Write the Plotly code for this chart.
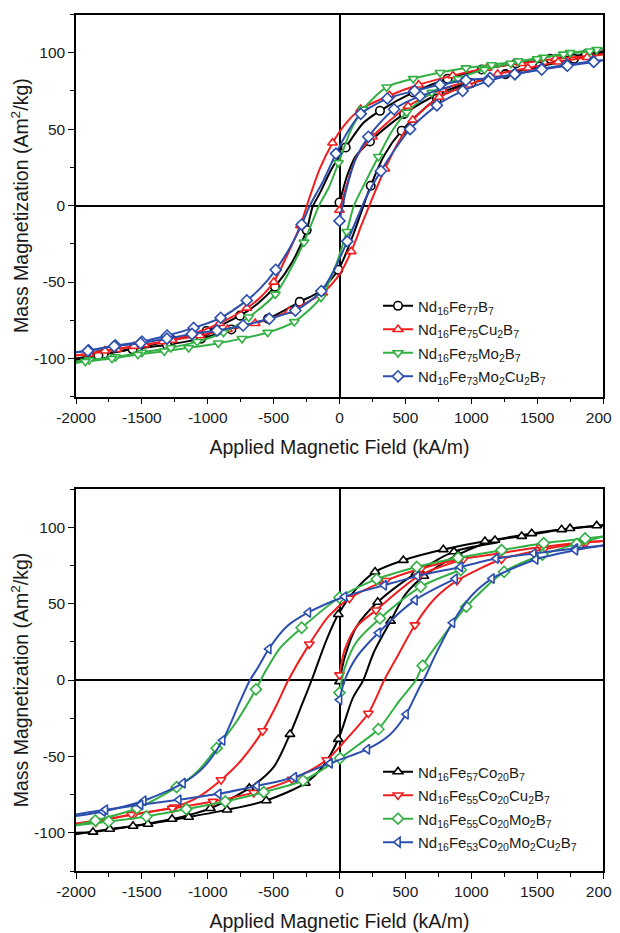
import plotly.graph_objects as go

# ---------------- data (H in kA/m, M in Am2/kg) ----------------
# Top panel
top_names = ["Nd<sub>16</sub>Fe<sub>77</sub>B<sub>7</sub>",
             "Nd<sub>16</sub>Fe<sub>75</sub>Cu<sub>2</sub>B<sub>7</sub>",
             "Nd<sub>16</sub>Fe<sub>75</sub>Mo<sub>2</sub>B<sub>7</sub>",
             "Nd<sub>16</sub>Fe<sub>73</sub>Mo<sub>2</sub>Cu<sub>2</sub>B<sub>7</sub>"]

# black
t1_init_mk = [(0, 2), (231, 42), (490, 60), (750, 73)]
t1_init_ln = [(60, 20), (120, 32), (1000, 81)]
t1_desc_mk = [(1870, 99), (1600, 96), (1340, 93), (1080, 89), (820, 83), (560, 74), (307, 62), (47, 38),
              (-249, -16), (-490, -53), (-755, -72), (-1010, -82), (-1270, -88), (-1530, -93), (-1790, -97)]
t1_desc_ln = [(2000, 101), (180, 54), (-60, 24), (-150, 8), (-205, -1), (-360, -37), (-620, -64), (-2000, -100)]
t1_asc_mk = [(-1830, -98), (-1570, -94), (-1310, -91), (-1050, -87), (-821, -81), (-543, -74), (-302, -63),
             (-9, -42), (237, 13), (472, 49), (740, 70), (1000, 80), (1260, 86), (1520, 91), (1780, 96)]
t1_asc_ln = [(-2000, -101), (-150, -56), (100, -20), (170, -3), (340, 33), (2000, 100)]

# red
t2_init_mk = [(0, -3), (250, 45), (520, 65), (780, 76)]
t2_init_ln = [(50, 12), (130, 32), (1000, 82)]
t2_desc_mk = [(1900, 98), (1640, 96), (1380, 93), (1120, 90), (860, 85), (600, 79), (380, 72), (160, 63),
              (-53, 41), (-297, -13), (-499, -50), (-703, -67), (-910, -77), (-1120, -84), (-1340, -89),
              (-1560, -92), (-1780, -95)]
t2_desc_ln = [(2000, 99), (50, 54), (-150, 24), (-240, 2), (-400, -33), (-600, -60), (-2000, -98)]
t2_asc_mk = [(-1900, -97), (-1690, -94), (-1480, -91), (-1270, -88), (-1060, -85), (-850, -81), (-640, -77),
             (-380, -69), (-128, -57), (89, -30), (345, 24), (556, 56), (757, 71), (980, 79), (1200, 86),
             (1430, 90), (1660, 94), (1880, 97)]
t2_asc_ln = [(-2000, -98), (0, -45), (170, -12), (250, 5), (450, 42), (2000, 99)]

# green
t3_init_mk = []
t3_init_ln = []
t3_desc_mk = [(1952, 102), (1750, 100), (1547, 97), (1357, 94.5), (1155, 92), (960, 90), (763, 87), (560, 83),
              (358, 77.5), (179, 63), (-8, 28), (-270, -24), (-487, -58), (-689, -73), (-880, -83),
              (-1080, -89), (-1280, -93), (-1500, -96), (-1700, -99), (-1900, -101)]
t3_desc_ln = [(2000, 103), (90, 50), (-80, 12), (-155, 0), (-380, -43), (-2000, -102)]
t3_asc_mk = [(-1929, -102), (-1727, -100), (-1530, -97.4), (-1330, -95.2), (-1145, -93), (-920, -90),
             (-740, -87), (-545, -83), (-343, -76), (-140, -60), (55, -17), (295, 32), (510, 61), (700, 74),
             (900, 83), (1100, 89), (1300, 93), (1500, 96), (1700, 99), (1900, 101)]
t3_asc_ln = [(-2000, -103), (-40, -42), (110, 0), (200, 16), (400, 49), (2000, 103)]

# blue
t4_init_mk = [(0, -10), (219, 45), (414, 63), (611, 71.6)]
t4_init_ln = [(50, 10), (120, 30), (850, 78)]
t4_desc_mk = [(1926, 94.5), (1724, 92), (1535, 89.5), (1332, 86), (1142, 83.5), (960, 82), (763, 79), (570, 75),
              (363, 70), (161, 60), (-27, 34), (-287, -12.4), (-484, -42), (-704, -62), (-902, -73.4),
              (-1107, -80), (-1309, -85), (-1499, -89), (-1701, -91.5), (-1904, -94.8)]
t4_desc_ln = [(2000, 95), (60, 48), (-130, 15), (-225, 0), (-380, -28), (-600, -54), (-2000, -96)]
t4_asc_mk = [(-1910, -95), (-1710, -92), (-1510, -90), (-1310, -87), (-1120, -84), (-930, -81.7), (-732, -78.4),
             (-533, -74), (-335, -68.6), (-138, -55.9), (59, -23.4), (314, 22.6), (536, 50), (739, 65.6),
             (935, 75), (1130, 81.4), (1330, 86), (1535, 89), (1730, 91.5), (1930, 94)]
t4_asc_ln = [(-2000, -96), (-40, -42), (150, -5), (200, 5), (430, 38), (2000, 95)]

# Bottom panel
bot_names = ["Nd<sub>16</sub>Fe<sub>57</sub>Co<sub>20</sub>B<sub>7</sub>",
             "Nd<sub>16</sub>Fe<sub>55</sub>Co<sub>20</sub>Cu<sub>2</sub>B<sub>7</sub>",
             "Nd<sub>16</sub>Fe<sub>55</sub>Co<sub>20</sub>Mo<sub>2</sub>B<sub>7</sub>",
             "Nd<sub>16</sub>Fe<sub>53</sub>Co<sub>20</sub>Mo<sub>2</sub>Cu<sub>2</sub>B<sub>7</sub>"]

# black
b1_init_mk = [(0, -1), (290, 51), (580, 70), (869, 84)]
b1_init_ln = [(40, 15), (130, 35), (1200, 90)]
b1_desc_mk = [(1952, 101), (1686, 98.5), (1383, 94.1), (1104, 90.8), (788, 85.4), (485, 78.4), (270, 70.8),
              (-9, 43), (-376, -35.5), (-685, -70.8), (-980, -84), (-1271, -91), (-1567, -95.6), (-1871, -99.5)]
b1_desc_ln = [(2000, 101.5), (130, 60), (-100, 26), (-211, 0), (-280, -15), (-500, -57), (-2000, -100)]
b1_asc_mk = [(-1744, -97.6), (-1453, -94.3), (-1145, -89.7), (-854, -85), (-556, -78.9), (-259, -67.5),
             (-9, -38.8), (388, 38.6), (640, 68), (900, 82), (1180, 91.5), (1459, 95.9), (1750, 99.2)]
b1_asc_ln = [(-2000, -101), (-130, -57), (100, -12), (181, 0), (260, 18), (500, 56), (2000, 101)]

# red
b2_init_mk = [(0, 3.3), (277, 45.7), (600, 68), (940, 79)]
b2_init_ln = [(40, 20), (130, 35)]
b2_desc_mk = [(1850, 90), (1530, 87), (1220, 83), (910, 79), (620, 73), (350, 65), (75, 53.4), (-229, 23.5),
              (-583, -33.3), (-899, -65.4), (-1254, -83.2), (-1560, -88), (-1850, -92)]
b2_desc_ln = [(2000, 91), (-80, 42), (-388, 0), (-470, -15), (-750, -53), (-1080, -77), (-2000, -94)]
b2_asc_mk = [(-1850, -93), (-1580, -88), (-1270, -84), (-960, -79.5), (-651, -73.7), (-360, -65), (-97, -52.3),
             (219, -21.8), (573, 36), (892, 65), (1230, 79), (1550, 85.5), (1870, 90)]
b2_asc_ln = [(-2000, -94), (60, -38), (340, 0), (430, 14), (720, 53), (2000, 91)]

# green
b3_init_mk = [(0, -8.3), (307, 40.3), (616, 61), (920, 72)]
b3_init_ln = [(40, 8), (130, 25)]
b3_desc_mk = [(1864, 92.6), (1550, 89.5), (1230, 85), (900, 80), (586, 74), (282, 66), (0, 54), (-287, 34.2),
              (-634, -6.1), (-932, -44.6), (-1236, -70.1), (-1537, -83.9), (-1853, -92)]
b3_desc_ln = [(2000, 94), (-450, 21), (-560, 6), (-780, -27), (-1080, -60), (-2000, -95)]
b3_asc_mk = [(-1752, -92.6), (-1466, -89.3), (-1163, -84.5), (-867, -79.5), (-575, -73.4), (-277, -65.8),
             (4, -51.2), (295, -32.2), (631, 9.4), (962, 48), (1249, 70.8), (1540, 82), (1800, 89)]
b3_asc_ln = [(-2000, -95), (150, -42), (460, -13), (580, 0), (800, 30), (2000, 94)]

# blue
b4_init_mk = [(0, -13), (295, 30.9), (573, 52.3), (877, 66.2)]
b4_init_ln = [(40, 0), (130, 15)]
b4_desc_mk = [(1790, 86.1), (1474, 82.8), (1188, 79.5), (917, 74), (592, 68), (339, 62), (37, 54.5),
              (-237, 44.2), (-537, 20.3), (-887, -39.5), (-1188, -67.5), (-1486, -79), (-1795, -86)]
b4_desc_ln = [(2000, 88), (-400, 35), (-620, 8), (-679, 0), (-760, -15), (-1030, -57), (-2000, -89)]
b4_asc_mk = [(-1777, -84.9), (-1511, -81.7), (-1220, -78.4), (-917, -74.5), (-626, -69.3), (-343, -63.6),
             (-72, -54.5), (211, -45.3), (505, -22.4), (857, 37.5), (1157, 66.4), (1489, 78.9), (1790, 85)]
b4_asc_ln = [(-2000, -88), (380, -36), (600, -6), (650, 2), (720, 15), (1000, 55), (2000, 88)]

x_ticks = [-2000, -1500, -1000, -500, 0, 500, 1000, 1500, 2000]
x_ticklabels = ["-2000", "-1500", "-1000", "-500", "0", "500", "1000", "1500", "2000"]
y_ticks = [-100, -50, 0, 50, 100]
y_ticklabels = ["-100", "-50", "0", "50", "100"]
x_title = "Applied Magnetic Field (kA/m)"
y_title = "Mass Magnetization (Am<sup>2</sup>/kg)"

# ---------------- styling ----------------
colors = ["#000000", "#f01e1e", "#33b044", "#2c4fae"]
top_symbols = ["circle", "triangle-up", "triangle-down", "diamond"]
bot_symbols = ["triangle-up", "triangle-down", "diamond", "triangle-left"]
FONT = "Liberation Sans, Arial, sans-serif"

top_series = [
    [(t1_init_mk, t1_init_ln), (t1_desc_mk, t1_desc_ln), (t1_asc_mk, t1_asc_ln)],
    [(t2_init_mk, t2_init_ln), (t2_desc_mk, t2_desc_ln), (t2_asc_mk, t2_asc_ln)],
    [(t3_init_mk, t3_init_ln), (t3_desc_mk, t3_desc_ln), (t3_asc_mk, t3_asc_ln)],
    [(t4_init_mk, t4_init_ln), (t4_desc_mk, t4_desc_ln), (t4_asc_mk, t4_asc_ln)],
]
bot_series = [
    [(b1_init_mk, b1_init_ln), (b1_desc_mk, b1_desc_ln), (b1_asc_mk, b1_asc_ln)],
    [(b2_init_mk, b2_init_ln), (b2_desc_mk, b2_desc_ln), (b2_asc_mk, b2_asc_ln)],
    [(b3_init_mk, b3_init_ln), (b3_desc_mk, b3_desc_ln), (b3_asc_mk, b3_asc_ln)],
    [(b4_init_mk, b4_init_ln), (b4_desc_mk, b4_desc_ln), (b4_asc_mk, b4_asc_ln)],
]

fig = go.Figure()


def add_panel(series, names, symbols, xa, ya, legend, gprefix):
    for i, branches in enumerate(series):
        col = colors[i]
        grp = f"{gprefix}{i}"
        mk_style = dict(symbol=symbols[i], size=8.5, color="white", line=dict(color=col, width=1.6))
        for mk, ln in branches:
            pts = sorted(mk + ln, key=lambda p: p[0])
            if not pts:
                continue
            fig.add_trace(go.Scatter(x=[p[0] for p in pts], y=[p[1] for p in pts], mode="lines",
                                     line=dict(color=col, width=2, shape="spline", smoothing=0.8),
                                     xaxis=xa, yaxis=ya, showlegend=False, legendgroup=grp,
                                     hoverinfo="skip"))
        for mk, ln in branches:
            if not mk:
                continue
            fig.add_trace(go.Scatter(x=[p[0] for p in mk], y=[p[1] for p in mk], mode="markers",
                                     marker=mk_style, xaxis=xa, yaxis=ya, showlegend=False,
                                     legendgroup=grp))
        fig.add_trace(go.Scatter(x=[None], y=[None], mode="lines+markers", name=names[i],
                                 line=dict(color=col, width=2), marker=mk_style,
                                 xaxis=xa, yaxis=ya, legend=legend, legendgroup=grp))


add_panel(top_series, top_names, top_symbols, "x", "y", "legend", "t")
add_panel(bot_series, bot_names, bot_symbols, "x2", "y2", "legend2", "b")

axis_common = dict(showgrid=False, zeroline=True, zerolinecolor="black", zerolinewidth=1.5,
                   showline=True, linecolor="black", linewidth=1.5, mirror=True,
                   ticks="outside", ticklen=6, tickwidth=1.3, tickcolor="black", automargin=False,
                   ticklabeloverflow="allow",
                   tickfont=dict(family=FONT, size=15.5, color="#1a1a1a"))

# page is drawn with an 8px body margin, so the figure is 612x925
W, H = 612, 925
xdom = [(76 - 8) / W, (603 - 8) / W]
top_dom = [1 - (396.7 - 8) / H, 1 - (14.5 - 8) / H]
bot_dom = [1 - (871 - 8) / H, 1 - (489 - 8) / H]
for xa, ya, ydom, anchor_x, anchor_y in [("xaxis", "yaxis", top_dom, "y", "x"),
                                          ("xaxis2", "yaxis2", bot_dom, "y2", "x2")]:
    fig.layout[xa] = dict(axis_common, domain=xdom, anchor=anchor_x, range=[-2000, 2000],
                          tickvals=x_ticks, ticktext=x_ticklabels,
                          minor=dict(ticks="outside", ticklen=4, dtick=250, tick0=0, tickwidth=1.2,
                                     tickcolor="black", showgrid=False),
                          title=dict(text=x_title, font=dict(family=FONT, size=19.5, color="#1a1a1a"),
                                     standoff=15))
    fig.layout[ya] = dict(axis_common, domain=ydom, anchor=anchor_y, range=[-125, 125],
                          tickvals=y_ticks, ticktext=y_ticklabels,
                          minor=dict(ticks="outside", ticklen=4, dtick=25, tick0=0, tickwidth=1.2,
                                     tickcolor="black", showgrid=False),
                          title=dict(text=y_title, font=dict(family=FONT, size=19.5, color="#1a1a1a"),
                                     standoff=4))

legend_common = dict(xanchor="left", yanchor="top", bgcolor="rgba(0,0,0,0)", borderwidth=0,
                     font=dict(family=FONT, size=15, color="#1a1a1a"), tracegroupgap=1,
                     itemwidth=30)
fig.update_layout(
    width=W, height=H,
    margin=dict(l=0, r=0, t=0, b=0, autoexpand=False),
    paper_bgcolor="white", plot_bgcolor="white",
    legend=dict(legend_common, x=370 / W, y=0.6956),
    legend2=dict(legend_common, x=370 / W, y=0.192),
    font=dict(family=FONT),
)

fig.write_html("out.html")
